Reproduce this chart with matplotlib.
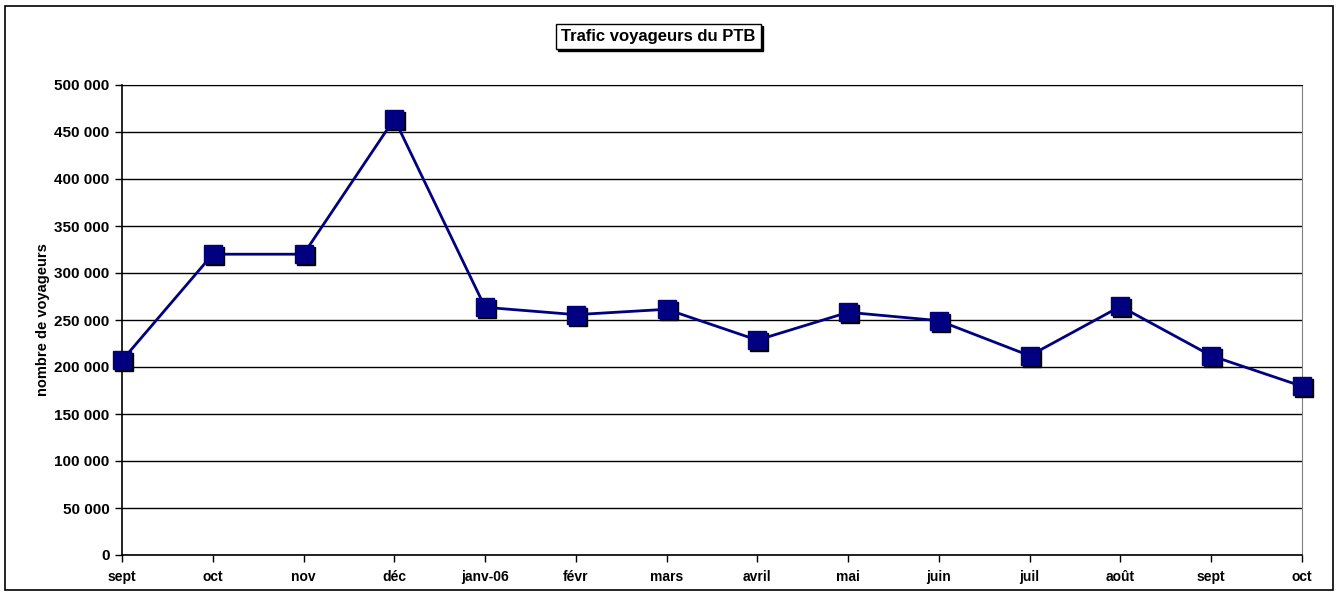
import matplotlib.pyplot as plt
import matplotlib.transforms as mtransforms
from matplotlib.patches import Rectangle
from matplotlib.ticker import FuncFormatter, MultipleLocator

plt.rcParams['font.family'] = ['Liberation Sans', 'DejaVu Sans']
plt.rcParams['font.weight'] = 'bold'

# Data
months = ["sept", "oct", "nov", "déc", "janv-06", "févr", "mars", "avril",
          "mai", "juin", "juil", "août", "sept", "oct"]
voyageurs = [207000, 320000, 320000, 464000, 263500, 255700, 261400, 228600,
             258200, 249300, 212000, 264500, 212000, 179500]

navy = "#000080"

fig = plt.figure(figsize=(13.37, 5.92), dpi=100)
ax = fig.add_axes([122 / 1337, 1 - 555 / 592, 1180 / 1337, 470 / 592])

x = list(range(len(months)))

# grid lines
ax.yaxis.set_major_locator(MultipleLocator(50000))
ax.grid(axis="y", color="black", linewidth=1)
ax.set_axisbelow(True)

# shadow of the markers
shadow = ax.transData + mtransforms.ScaledTranslation(2 / 100, -2 / 100, fig.dpi_scale_trans)
ax.plot(x, voyageurs, linestyle="none", marker="s", markersize=13,
        color="black", transform=shadow, zorder=3, clip_on=False)
ax.plot(x, voyageurs, color=navy, linewidth=2, marker="s", markersize=13,
        markerfacecolor=navy, markeredgecolor=navy, zorder=4, clip_on=False)

ax.set_xlim(0, len(months) - 1)
ax.set_ylim(0, 500000)
ax.set_xticks(x)
ax.set_xticklabels(months)
ax.yaxis.set_major_formatter(FuncFormatter(lambda v, p: f"{int(v):,}".replace(",", " ")))
ax.tick_params(axis="both", direction="out", length=5, width=1)
ax.tick_params(axis="x", pad=6, labelsize=10)
ax.tick_params(axis="y", pad=4, labelsize=11)

ax.spines["top"].set_color("black")
ax.spines["right"].set_color("#808080")
ax.spines["left"].set_linewidth(1.2)
ax.spines["bottom"].set_linewidth(1.2)

ax.set_ylabel("nombre de voyageurs", fontsize=10.5, fontweight="bold", labelpad=3)

# title box with shadow
fig.text(658.5 / 1337 + 2 / 1337, 1 - 36 / 592 - 2 / 592, "Trafic voyageurs du PTB",
         ha="center", va="center", fontsize=12, fontweight="bold", color="black",
         bbox=dict(boxstyle="square,pad=0.3", facecolor="black", edgecolor="black"))
fig.text(658.5 / 1337, 1 - 36 / 592, "Trafic voyageurs du PTB",
         ha="center", va="center", fontsize=12, fontweight="bold",
         bbox=dict(boxstyle="square,pad=0.3", facecolor="white", edgecolor="black", linewidth=1))

# outer frame
fig.patches.append(Rectangle((5 / 1337, 2 / 592), 1328 / 1337, 584 / 592,
                             transform=fig.transFigure, fill=False,
                             edgecolor="black", linewidth=1.2))

fig.savefig("out.png", dpi=100)
